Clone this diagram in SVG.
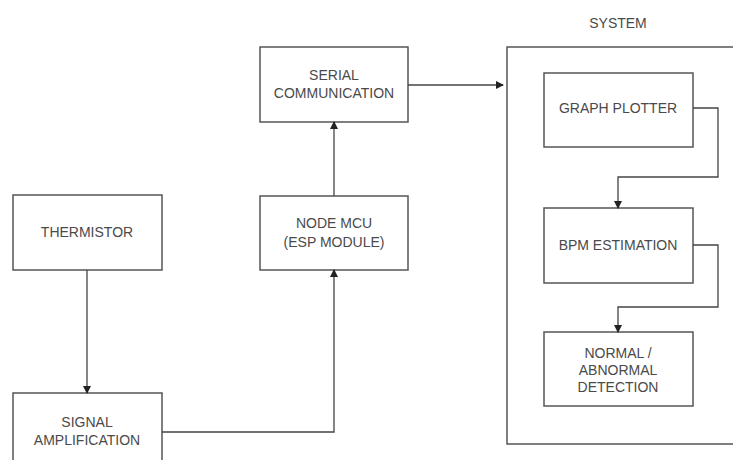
<svg xmlns="http://www.w3.org/2000/svg" width="733" height="460" viewBox="0 0 733 460">
<style>
.box{fill:#fff;stroke:#555;stroke-width:1.5}
.t{font-family:"Liberation Sans",Arial,sans-serif;font-size:14px;fill:#4a4a4a;text-anchor:middle}
.c{fill:none;stroke:#444;stroke-width:1.3}
</style>
<defs>
<marker id="ah" markerWidth="8" markerHeight="8" refX="7" refY="4" orient="auto" markerUnits="userSpaceOnUse">
<path d="M0,0 L8,4 L0,8 Z" fill="#222"/>
</marker>
</defs>
<rect width="733" height="460" fill="#fff"/>
<g id="system">
<rect class="box" x="507" y="47" width="240" height="397"/>
<text class="t" x="618" y="28">SYSTEM</text>
</g>
<g id="thermistor">
<rect class="box" x="13" y="195" width="149" height="75"/>
<text class="t" x="87" y="237">THERMISTOR</text>
</g>
<g id="signal">
<rect class="box" x="13" y="393" width="149" height="80"/>
<text class="t" x="87" y="427">SIGNAL</text>
<text class="t" x="87" y="445">AMPLIFICATION</text>
</g>
<g id="nodemcu">
<rect class="box" x="260" y="196" width="148" height="74"/>
<text class="t" x="334" y="228">NODE MCU</text>
<text class="t" x="334" y="247">(ESP MODULE)</text>
</g>
<g id="serial">
<rect class="box" x="260" y="47" width="148" height="75"/>
<text class="t" x="334" y="80">SERIAL</text>
<text class="t" x="334" y="98">COMMUNICATION</text>
</g>
<g id="graph">
<rect class="box" x="544" y="73" width="149" height="74"/>
<text class="t" x="618" y="113">GRAPH PLOTTER</text>
</g>
<g id="bpm">
<rect class="box" x="544" y="208" width="149" height="75"/>
<text class="t" x="618" y="250">BPM ESTIMATION</text>
</g>
<g id="normal">
<rect class="box" x="544" y="332" width="149" height="74"/>
<text class="t" x="618" y="358">NORMAL /</text>
<text class="t" x="618" y="375">ABNORMAL</text>
<text class="t" x="618" y="392">DETECTION</text>
</g>
<g id="connectors">
<path class="c" d="M87,270 L87,393" marker-end="url(#ah)"/>
<path class="c" d="M162,432 L334,432 L334,270" marker-end="url(#ah)"/>
<path class="c" d="M334,196 L334,122" marker-end="url(#ah)"/>
<path class="c" d="M408,85 L503,85" marker-end="url(#ah)"/>
<path class="c" d="M693,108 L718,108 L718,177 L618,177 L618,208" marker-end="url(#ah)"/>
<path class="c" d="M693,245 L718,245 L718,307 L618,307 L618,332" marker-end="url(#ah)"/>
</g>
</svg>
